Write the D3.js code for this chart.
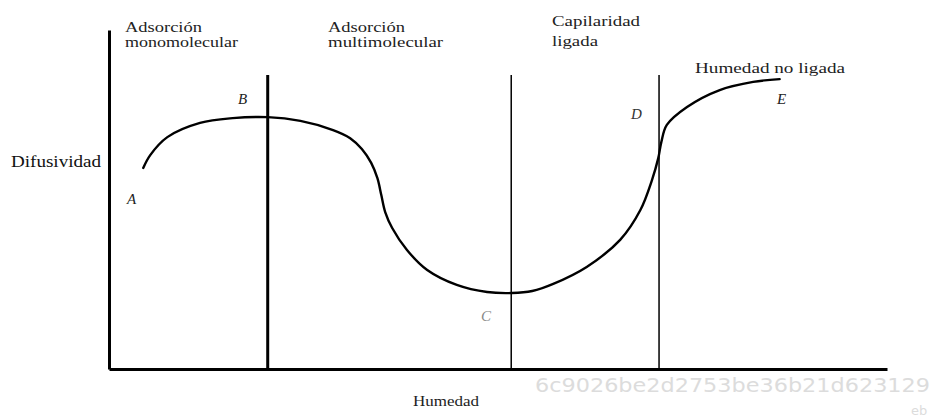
<!DOCTYPE html>
<html>
<head>
<meta charset="utf-8">
<script src="https://cdn.jsdelivr.net/npm/d3@7"></script>
<style>
  html, body { margin: 0; padding: 0; background: #fff; }
  svg { display: block; }
</style>
</head>
<body>
<svg id="chart" width="933" height="417"></svg>
<script>
// ---- data (arbitrary units, Humedad 0-100, Difusividad 0-100) ----
const humedad = [4.4, 5.3, 7.5, 11.7, 15.9, 20.4, 24.6, 28.8, 31.0, 32.5, 33.7, 34.5, 35.0, 35.5, 36.4, 38.3, 40.9, 44.7, 48.6, 51.8, 54.4, 57.1, 61.4, 65.7, 68.3, 69.8, 70.6, 71.0, 71.7, 74.3, 78.5, 82.8, 86.2];
const difusividad = [59.3, 63.1, 68.4, 72.6, 74.0, 74.3, 73.2, 70.5, 68.1, 64.9, 60.8, 56.3, 51.3, 46.3, 41.6, 35.1, 29.2, 24.8, 22.7, 22.4, 23.0, 25.1, 30.1, 38.1, 46.9, 55.8, 62.2, 67.0, 72.0, 77.3, 82.3, 84.7, 85.5];
const zoneLimits = [20.4, 51.7, 70.7];
const zoneTop = 86.7;
const zoneNames = [["Adsorción", "monomolecular"], ["Adsorción", "multimolecular"], ["Capilaridad", "ligada"], ["Humedad no ligada"]];
const pointNames = ["A", "B", "C", "D", "E"];
const xTitle = "Humedad";
const yTitle = "Difusividad";
const watermark = "6c9026be2d2753be36b21d623129";

// ---- drawing ----
const svg = d3.select("#chart");
const x = d3.scaleLinear().domain([0, 100]).range([109, 887]);
const y = d3.scaleLinear().domain([0, 100]).range([369, 30]);
const serif = "'Liberation Serif', 'Times New Roman', Times, serif";

// watermark
svg.append("text").attr("x", 535).attr("y", 392)
  .attr("font-family", "'DejaVu Sans', sans-serif").attr("font-size", 20)
  .attr("fill", "#dcdcdc").attr("textLength", 395).attr("lengthAdjust", "spacingAndGlyphs")
  .text(watermark);
svg.append("text").attr("x", 911).attr("y", 415)
  .attr("font-family", "'DejaVu Sans', sans-serif").attr("font-size", 13)
  .attr("fill", "#dcdcdc").text("eb");

// axes (lines, no ticks)
const yAxis = d3.axisLeft(y).tickValues([]).tickSizeOuter(0);
const xAxis = d3.axisBottom(x).tickValues([]).tickSizeOuter(0);
svg.append("g").attr("transform", `translate(${x(0)},0)`).call(yAxis)
  .select(".domain").attr("stroke", "#000").attr("stroke-width", 3);
svg.append("g").attr("transform", `translate(0,${y(0)})`).call(xAxis)
  .select(".domain").attr("stroke", "#000").attr("stroke-width", 3);

// zone dividers
svg.selectAll("line.zone").data(zoneLimits).enter().append("line")
  .attr("class", "zone")
  .attr("x1", d => x(d)).attr("x2", d => x(d))
  .attr("y1", y(zoneTop)).attr("y2", y(0))
  .attr("stroke", "#000")
  .attr("stroke-width", (d, i) => i === 0 ? 3 : 1.5);

// curve
const pts = humedad.map((h, i) => [h, difusividad[i]]);
const line = d3.line().x(d => x(d[0])).y(d => y(d[1])).curve(d3.curveCatmullRom.alpha(0.5));
svg.append("path").datum(pts).attr("d", line)
  .attr("fill", "none").attr("stroke", "#000").attr("stroke-width", 2.4)
  .attr("stroke-linecap", "round");

// zone labels
const zoneLabelPos = [
  { x: 125, y: [32, 47], w: [77, 113] },
  { x: 328, y: [32, 47], w: [77, 115] },
  { x: 552, y: [26, 46], w: [88, 46] },
  { x: 695, y: [73], w: [150] }
];
zoneNames.forEach((lines, i) => {
  lines.forEach((t, j) => {
    svg.append("text").attr("x", zoneLabelPos[i].x).attr("y", zoneLabelPos[i].y[j])
      .style("font-family", serif).attr("font-size", 15).attr("fill", "#222")
      .attr("textLength", zoneLabelPos[i].w[j]).attr("lengthAdjust", "spacingAndGlyphs")
      .text(t);
  });
});

// point labels
const pointPos = [[127, 204, "#222"], [238, 104, "#222"], [481, 321, "#888"], [631, 119, "#333"], [777, 104, "#222"]];
pointNames.forEach((t, i) => {
  svg.append("text").attr("x", pointPos[i][0]).attr("y", pointPos[i][1])
    .style("font-family", serif).attr("font-style", "italic").attr("font-size", 15)
    .attr("fill", pointPos[i][2]).text(t);
});

// axis titles
svg.append("text").attr("x", 11).attr("y", 167)
  .style("font-family", serif).attr("font-size", 16).attr("fill", "#111")
  .attr("textLength", 90).attr("lengthAdjust", "spacingAndGlyphs").text(yTitle);
svg.append("text").attr("x", 413).attr("y", 406)
  .style("font-family", serif).attr("font-size", 15).attr("fill", "#222")
  .attr("textLength", 66).attr("lengthAdjust", "spacingAndGlyphs").text(xTitle);
</script>
</body>
</html>
